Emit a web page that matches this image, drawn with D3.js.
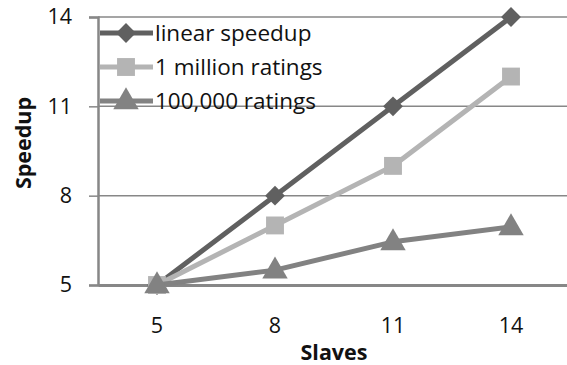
<!DOCTYPE html>
<html>
<head>
<meta charset="utf-8">
<script src="https://cdn.jsdelivr.net/npm/d3@7"></script>
<style>
  html, body { margin: 0; padding: 0; background: #fff; }
  svg { display: block; font-family: "Open Sans", "Noto Sans", sans-serif; }
</style>
</head>
<body>
<svg id="chart" width="567" height="365"></svg>
<script>
// Speedup measured against number of slave nodes
const slaves = ["5", "8", "11", "14"];
const linearSpeedup = [5, 8, 11, 14];
const millionRatings = [5, 7, 9, 12];
const hundredKRatings = [5, 5.5, 6.45, 6.95];
const yTicks = [5, 8, 11, 14];

const seriesNames = ["linear speedup", "1 million ratings", "100,000 ratings"];
const seriesColors = ["#606060", "#b4b4b4", "#828282"];
const seriesSymbols = [d3.symbolDiamond2, d3.symbolSquare, d3.symbolTriangle];
const seriesValues = [linearSpeedup, millionRatings, hundredKRatings];

const svg = d3.select("#chart");
const margin = { left: 98, right: -3, top: 17, bottom: 80 };
const W = 567, H = 365;
const fs = 21.5;

const x = d3.scaleBand().domain(slaves).range([margin.left, W - margin.right]);
const y = d3.scaleLinear().domain([5, 14]).range([H - margin.bottom, margin.top]);
const gridColor = "#878787";

// horizontal gridlines
svg.append("g").selectAll("line").data(yTicks.slice(1)).join("line")
  .attr("x1", margin.left).attr("x2", W)
  .attr("y1", d => y(d)).attr("y2", d => y(d))
  .attr("stroke", gridColor).attr("stroke-width", 1.5);

// y axis
const yAxis = svg.append("g").attr("transform", `translate(${margin.left},0)`)
  .call(d3.axisLeft(y).tickValues(yTicks).tickSize(9).tickPadding(17));
yAxis.select(".domain").attr("stroke", gridColor).attr("stroke-width", 2.5);
yAxis.selectAll(".tick line").attr("stroke", gridColor).attr("stroke-width", 1.5);
yAxis.selectAll(".tick text").attr("font-size", fs).attr("fill", "#111")
  .attr("font-family", "Open Sans, sans-serif");

// x axis
const xAxis = svg.append("g").attr("transform", `translate(0,${y(5)})`)
  .call(d3.axisBottom(x).tickSize(0).tickPadding(33));
xAxis.select(".domain").attr("stroke", gridColor).attr("stroke-width", 3);
xAxis.selectAll(".tick text").attr("font-size", fs).attr("fill", "#111")
  .attr("font-family", "Open Sans, sans-serif");

// axis titles
svg.append("text").attr("x", x("5") + (x("14") - x("5")) / 2 + x.bandwidth() / 2).attr("y", 360)
  .attr("text-anchor", "middle").attr("font-weight", "bold").attr("font-size", fs)
  .attr("fill", "#111").text("Slaves");
svg.append("text").attr("transform", "translate(31,143) rotate(-90)")
  .attr("text-anchor", "middle").attr("font-weight", "bold").attr("font-size", fs)
  .attr("fill", "#111").text("Speedup");

// series lines and markers
const line = d3.line().x((d, i) => x(slaves[i]) + x.bandwidth() / 2).y(d => y(d));
const symbolSizes = [250, 320, 280];
seriesValues.forEach((vals, s) => {
  const g = svg.append("g");
  g.append("path").datum(vals).attr("d", line)
    .attr("fill", "none").attr("stroke", seriesColors[s]).attr("stroke-width", 5)
    .attr("stroke-linejoin", "round");
  g.selectAll("path.m").data(vals).join("path").attr("class", "m")
    .attr("transform", (d, i) => `translate(${x(slaves[i]) + x.bandwidth() / 2},${y(d) + (s === 2 ? 1 : 0)})`)
    .attr("d", d3.symbol(seriesSymbols[s], symbolSizes[s])())
    .attr("fill", seriesColors[s]);
});

// legend
const legend = svg.append("g");
seriesNames.forEach((name, s) => {
  const ly = 33 + s * 34;
  legend.append("line").attr("x1", 100).attr("x2", 153).attr("y1", ly).attr("y2", ly)
    .attr("stroke", seriesColors[s]).attr("stroke-width", 5);
  legend.append("path").attr("transform", `translate(126,${ly + (s === 2 ? 1 : 0)})`)
    .attr("d", d3.symbol(seriesSymbols[s], symbolSizes[s])())
    .attr("fill", seriesColors[s]);
  legend.append("text").attr("x", 155).attr("y", ly).attr("dy", "0.35em")
    .attr("font-size", fs + 1).attr("fill", "#111").text(name);
});
</script>
</body>
</html>
